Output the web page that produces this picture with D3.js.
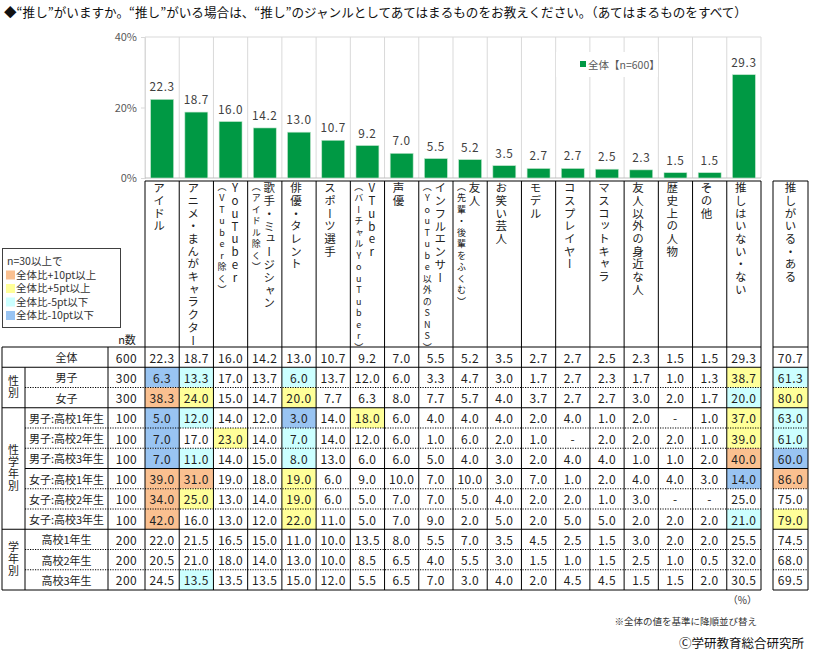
<!DOCTYPE html>
<html>
<head>
<meta charset="utf-8">
<script src="https://cdn.jsdelivr.net/npm/d3@7"></script>
<style>
  body { margin: 0; background: #fff; }
  text { font-family: "Noto Sans CJK JP", "Noto Sans", sans-serif; }
  text.vert { writing-mode: vertical-rl; text-orientation: upright; }
</style>
</head>
<body>
<svg id="chart" width="813" height="659"></svg>
<script>
// ---- data ----
const catMain = ["アイドル", "アニメ・まんがキャラクター", "YouTuber", "歌手・ミュージシャン", "俳優・タレント",
                 "スポーツ選手", "VTuber", "声優", "インフルエンサー", "友人", "お笑い芸人", "モデル",
                 "コスプレイヤー", "マスコットキャラ", "友人以外の身近な人", "歴史上の人物", "その他", "推しはいない・ない"];
const catSub = ["", "", "（VTuber除く）", "（アイドル除く）", "", "", "（バーチャルYouTuber）", "",
                "（YouTube以外のSNS）", "（先輩・後輩をふくむ）", "", "", "", "", "", "", "", ""];
const totalValues = [22.3, 18.7, 16.0, 14.2, 13.0, 10.7, 9.2, 7.0, 5.5, 5.2, 3.5, 2.7, 2.7, 2.5, 2.3, 1.5, 1.5, 29.3];
const extraLabel = "推しがいる・ある";
const yTicks = [0, 20, 40];

const groupLabels = ["", "性別", "性学年別", "学年別"];
const groupRows = [[0], [1, 2], [3, 4, 5, 6, 7, 8], [9, 10, 11]];
const rowLabels = ["全体", "男子", "女子", "男子:高校1年生", "男子:高校2年生", "男子:高校3年生",
                   "女子:高校1年生", "女子:高校2年生", "女子:高校3年生", "高校1年生", "高校2年生", "高校3年生"];
const rowN = [600, 300, 300, 100, 100, 100, 100, 100, 100, 200, 200, 200];
const rowValues = [
  totalValues,
  [6.3, 13.3, 17.0, 13.7, 6.0, 13.7, 12.0, 6.0, 3.3, 4.7, 3.0, 1.7, 2.7, 2.3, 1.7, 1.0, 1.3, 38.7],
  [38.3, 24.0, 15.0, 14.7, 20.0, 7.7, 6.3, 8.0, 7.7, 5.7, 4.0, 3.7, 2.7, 2.7, 3.0, 2.0, 1.7, 20.0],
  [5.0, 12.0, 14.0, 12.0, 3.0, 14.0, 18.0, 6.0, 4.0, 4.0, 4.0, 2.0, 4.0, 1.0, 2.0, null, 1.0, 37.0],
  [7.0, 17.0, 23.0, 14.0, 7.0, 14.0, 12.0, 6.0, 1.0, 6.0, 2.0, 1.0, null, 2.0, 2.0, 2.0, 1.0, 39.0],
  [7.0, 11.0, 14.0, 15.0, 8.0, 13.0, 6.0, 6.0, 5.0, 4.0, 3.0, 2.0, 4.0, 4.0, 1.0, 1.0, 2.0, 40.0],
  [39.0, 31.0, 19.0, 18.0, 19.0, 6.0, 9.0, 10.0, 7.0, 10.0, 3.0, 7.0, 1.0, 2.0, 4.0, 4.0, 3.0, 14.0],
  [34.0, 25.0, 13.0, 14.0, 19.0, 6.0, 5.0, 7.0, 7.0, 5.0, 4.0, 2.0, 2.0, 1.0, 3.0, null, null, 25.0],
  [42.0, 16.0, 13.0, 12.0, 22.0, 11.0, 5.0, 7.0, 9.0, 2.0, 5.0, 2.0, 5.0, 5.0, 2.0, 2.0, 2.0, 21.0],
  [22.0, 21.5, 16.5, 15.0, 11.0, 10.0, 13.5, 8.0, 5.5, 7.0, 3.5, 4.5, 2.5, 1.5, 3.0, 2.0, 2.0, 25.5],
  [20.5, 21.0, 18.0, 14.0, 13.0, 10.0, 8.5, 6.5, 4.0, 5.5, 3.0, 1.5, 1.0, 1.5, 2.5, 1.0, 0.5, 32.0],
  [24.5, 13.5, 13.5, 13.5, 15.0, 12.0, 5.5, 6.5, 7.0, 3.0, 4.0, 2.0, 4.5, 4.5, 1.5, 1.5, 2.0, 30.5]
];
const extraValues = [70.7, 61.3, 80.0, 63.0, 61.0, 60.0, 86.0, 75.0, 79.0, 74.5, 68.0, 69.5];

const legendItems = ["全体比+10pt以上", "全体比+5pt以上", "全体比-5pt以下", "全体比-10pt以下"];
const legendColors = ["#FAC090", "#FFFF99", "#CCFFFF", "#99C4F2"];

// ---- layout ----
const svg = d3.select("#chart");
const plotLeft = 145, plotRight = 761, plotTop = 37, plotBottom = 178;
const headTop = 181, headBottom = 347, tableBottom = 590;
const extraLeft = 773, extraRight = 808;
const green = "#009944";

const xCol = d3.scaleBand().domain(d3.range(catMain.length)).range([plotLeft, plotRight]);
const xBar = d3.scaleBand().domain(d3.range(catMain.length)).range([plotLeft, plotRight])
               .paddingInner(0.33).paddingOuter(0.165);
const y = d3.scaleLinear().domain([0, 40]).range([plotBottom, plotTop]);
const yRow = d3.scaleBand().domain(d3.range(rowLabels.length)).range([headBottom, tableBottom]);

// title
svg.append("text").attr("x", 4).attr("y", 17).attr("font-size", 12.6).attr("fill", "#111")
   .text("◆“推し”がいますか。“推し”がいる場合は、“推し”のジャンルとしてあてはまるものをお教えください。（あてはまるものをすべて）");

// ---- bar chart ----
const plot = svg.append("g");
plot.selectAll("line.vgrid")
    .data(d3.range(catMain.length + 1))
    .join("line")
    .attr("class", "vgrid")
    .attr("x1", i => i < catMain.length ? xCol(i) : plotRight)
    .attr("x2", i => i < catMain.length ? xCol(i) : plotRight)
    .attr("y1", plotTop).attr("y2", plotBottom)
    .attr("stroke", "#d9d9d9").attr("stroke-width", 1);
plot.append("line").attr("x1", plotLeft).attr("x2", plotRight).attr("y1", plotTop).attr("y2", plotTop)
    .attr("stroke", "#d9d9d9");

// legend box in plot (white patch breaks the gridlines)
plot.append("rect").attr("x", 556).attr("y", 52).attr("width", 102).attr("height", 25).attr("fill", "#fff");
plot.append("rect").attr("x", 580).attr("y", 61).attr("width", 6).attr("height", 6).attr("fill", green);
plot.append("text").attr("x", 588).attr("y", 68.5).attr("font-size", 10.5).attr("fill", "#595959")
    .text("全体【n=600】");

const yAxis = d3.axisLeft(y).tickValues(yTicks).tickSize(4).tickFormat(d => d + "%");
plot.append("g").attr("transform", `translate(${plotLeft},0)`).call(yAxis)
    .call(g => g.select(".domain").attr("stroke", "#d9d9d9"))
    .call(g => g.selectAll(".tick line").attr("stroke", "#d9d9d9"))
    .call(g => g.selectAll(".tick text").attr("font-size", 11).attr("fill", "#595959")
                .attr("font-family", "\"Noto Sans CJK JP\", sans-serif").attr("x", -8));
plot.append("line").attr("x1", plotLeft).attr("x2", plotRight).attr("y1", plotBottom).attr("y2", plotBottom)
    .attr("stroke", "#bfbfbf");

plot.selectAll("rect.bar")
    .data(totalValues)
    .join("rect")
    .attr("class", "bar")
    .attr("x", (d, i) => xBar(i))
    .attr("width", xBar.bandwidth())
    .attr("y", d => y(d))
    .attr("height", d => y(0) - y(d))
    .attr("fill", green)
    .attr("stroke", "#bfe5cc").attr("stroke-width", 0.6);
plot.selectAll("text.val")
    .data(totalValues)
    .join("text")
    .attr("class", "val")
    .attr("x", (d, i) => xCol(i) + xCol.bandwidth() / 2)
    .attr("y", d => y(d) - 8)
    .attr("text-anchor", "middle")
    .attr("font-size", 11.8).attr("letter-spacing", 0.6).attr("fill", "#404040")
    .text(d => d.toFixed(1));

// ---- vertical header labels (one text each, vertical writing mode) ----
function drawVertical(g, str, cx, top, step, size) {
  return g.append("text").attr("class", "vert")
    .attr("x", cx).attr("y", top)
    .attr("font-size", size).attr("letter-spacing", step - size)
    .attr("fill", "#222").text(str);
}
const head = svg.append("g");
catMain.forEach((lab, i) => {
  const left = xCol(i);
  if (catSub[i]) {
    drawVertical(head, lab, left + 21.5, 182, 12.8, 11.5);
    drawVertical(head, catSub[i], left + 8.5, 182, 11.5, 9);
  } else {
    drawVertical(head, lab, left + 14, 182, 12.7, 11.5);
  }
});
drawVertical(head, extraLabel, (extraLeft + extraRight) / 2, 182, 12.7, 11.5);
head.append("text").attr("x", 127).attr("y", 344).attr("text-anchor", "middle")
    .attr("font-size", 11).attr("fill", "#222").text("n数");

// ---- table ----
const table = svg.append("g");
function cellColor(v, base, n) {
  if (v == null || n < 30) return null;
  const diff = Math.round((v - base) * 10) / 10;
  if (diff >= 10) return legendColors[0];
  if (diff >= 5) return legendColors[1];
  if (diff <= -10) return legendColors[3];
  if (diff <= -5) return legendColors[2];
  return null;
}
rowValues.forEach((vals, r) => {
  if (r === 0) return;
  vals.forEach((v, c) => {
    const col = cellColor(v, totalValues[c], rowN[r]);
    if (col) table.append("rect").attr("x", xCol(c)).attr("y", yRow(r))
      .attr("width", xCol.bandwidth()).attr("height", yRow.bandwidth()).attr("fill", col);
  });
  const ec = cellColor(extraValues[r], extraValues[0], rowN[r]);
  if (ec) table.append("rect").attr("x", extraLeft).attr("y", yRow(r))
    .attr("width", extraRight - extraLeft).attr("height", yRow.bandwidth()).attr("fill", ec);
});

const fmt = v => v == null ? "-" : v.toFixed(1);
rowValues.forEach((vals, r) => {
  const cy = yRow(r) + yRow.bandwidth() / 2;
  table.append("text").attr("x", 66.5).attr("y", cy).attr("text-anchor", "middle")
       .attr("dominant-baseline", "central").attr("font-size", 11).attr("fill", "#222").text(rowLabels[r]);
  table.append("text").attr("x", 126.5).attr("y", cy).attr("text-anchor", "middle")
       .attr("dominant-baseline", "central").attr("font-size", 12).attr("letter-spacing", 0.5)
       .attr("fill", "#222").text(rowN[r]);
  table.selectAll(null).data(vals).join("text")
       .attr("x", (d, c) => xCol(c) + xCol.bandwidth() / 2).attr("y", cy)
       .attr("text-anchor", "middle").attr("dominant-baseline", "central")
       .attr("font-size", 12).attr("letter-spacing", 0.5).attr("fill", "#222").text(fmt);
  table.append("text").attr("x", (extraLeft + extraRight) / 2).attr("y", cy).attr("text-anchor", "middle")
       .attr("dominant-baseline", "central").attr("font-size", 12).attr("letter-spacing", 0.5)
       .attr("fill", "#222").text(fmt(extraValues[r]));
});

// group labels (vertical)
groupRows.forEach((rows, gi) => {
  if (!groupLabels[gi]) return;
  const top = yRow(rows[0]), bot = yRow(rows[rows.length - 1]) + yRow.bandwidth();
  const n = groupLabels[gi].length, step = 12;
  drawVertical(table, groupLabels[gi], 13.5, (top + bot) / 2 - n * step / 2, step, 11);
});

// grid lines of the table
const line = (x1, x2, y1, y2, dotted) => table.append("line")
  .attr("x1", x1).attr("x2", x2).attr("y1", y1).attr("y2", y2)
  .attr("stroke", "#000").attr("stroke-width", dotted ? 1.2 : 1)
  .attr("stroke-dasharray", dotted ? "1.2 1.3" : null);

const groupStarts = new Set(groupRows.map(g => g[0]));
for (let r = 0; r <= rowLabels.length; r++) {
  const yy = r < rowLabels.length ? yRow(r) : tableBottom;
  const solid = r === 0 || r === rowLabels.length || groupStarts.has(r) || r === 6;
  const x0 = (r === 0 || r === rowLabels.length || groupStarts.has(r)) ? 2 : 25;
  line(x0, plotRight, yy, yy, !solid);
  line(extraLeft, extraRight, yy, yy, !solid);
}
line(2, 2, headBottom, tableBottom);
line(25, 25, yRow(1), tableBottom);
line(108, 108, headBottom, tableBottom);
d3.range(catMain.length + 1).forEach(i => {
  const xx = i < catMain.length ? xCol(i) : plotRight;
  line(xx, xx, headTop, tableBottom);
});
line(plotLeft, plotRight, headTop, headTop);
line(extraLeft, extraRight, headTop, headTop);
line(extraLeft, extraLeft, headTop, tableBottom);
line(extraRight, extraRight, headTop, tableBottom);

// ---- colour key at the left ----
const key = svg.append("g");
key.append("rect").attr("x", 2.5).attr("y", 248.5).attr("width", 118).attr("height", 79)
   .attr("fill", "#fff").attr("stroke", "#404040");
key.append("text").attr("x", 7).attr("y", 265).attr("font-size", 10.5).attr("fill", "#333").text("n=30以上で");
legendItems.forEach((t, k) => {
  const yy = 278.5 + k * 13.5;
  key.append("rect").attr("x", 6).attr("y", yy - 8).attr("width", 9).attr("height", 9).attr("fill", legendColors[k]);
  key.append("text").attr("x", 16).attr("y", yy).attr("font-size", 10.5).attr("fill", "#333").text(t);
});

// ---- footer ----
svg.append("text").attr("x", 757).attr("y", 604).attr("text-anchor", "end").attr("font-size", 10)
   .attr("fill", "#333").text("（%）");
svg.append("text").attr("x", 757).attr("y", 625).attr("text-anchor", "end").attr("font-size", 9.5)
   .attr("fill", "#333").text("※全体の値を基準に降順並び替え");
svg.append("text").attr("x", 804).attr("y", 648).attr("text-anchor", "end").attr("font-size", 12.5)
   .attr("fill", "#111").text("Ⓒ学研教育総合研究所");
</script>
</body>
</html>
